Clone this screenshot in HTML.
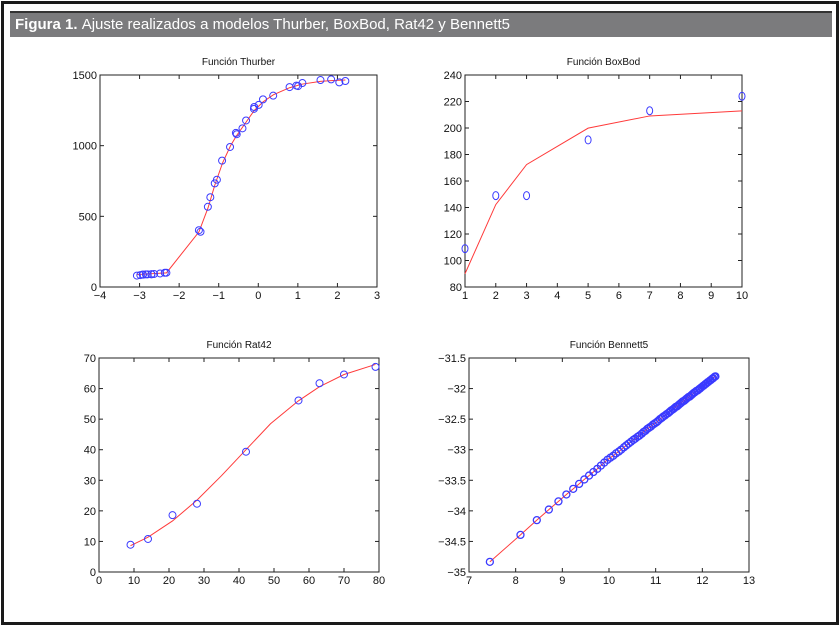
<!DOCTYPE html>
<html><head><meta charset="utf-8"><style>
html,body{margin:0;padding:0;background:#fff;}
body{width:840px;height:627px;overflow:hidden;position:relative;font-family:"Liberation Sans",sans-serif;}
#frame{position:absolute;left:1px;top:1px;width:832px;height:618px;border:3px solid #1a1a1a;}
#hdr{position:absolute;left:10px;top:11px;width:822px;height:26px;background:#7b7b7d;border-top:2px solid #333;color:#fff;font-weight:bold;font-size:15px;line-height:24px;padding-left:5px;box-sizing:border-box;}
#hdr span{font-weight:normal;}
svg{position:absolute;left:0;top:0;}
</style></head><body>
<div id="frame"></div>
<div id="hdr"><b>Figura 1.</b> <span>Ajuste realizados a modelos Thurber, BoxBod, Rat42 y Bennett5</span></div>
<svg id="svg" width="840" height="627"></svg>
<script>
// Thurber
const thX=[-3.067,-2.981,-2.921,-2.912,-2.840,-2.797,-2.702,-2.699,-2.633,-2.481,-2.363,-2.322,-1.501,-1.460,-1.274,-1.212,-1.100,-1.046,-0.915,-0.714,-0.566,-0.545,-0.400,-0.309,-0.109,-0.103,0.010,0.119,0.377,0.790,0.963,1.006,1.115,1.572,1.841,2.047,2.200];
const thY=[80.6,84.2,87.3,87.2,89.1,89.6,89.9,90.1,92.4,95.9,100.7,101.1,401.7,390.7,567.5,635.3,733.1,759.1,894.2,990.8,1090.1,1080.9,1122.6,1178.4,1260.5,1273.5,1288.3,1327.5,1353.9,1414.5,1425.2,1421.4,1443.0,1464.4,1468.7,1447.9,1457.6];
const thFitX=[-3.07,-2.32,-1.5,-1.27,-1.1,-0.9,-0.7,-0.55,-0.3,-0.1,0.12,0.38,0.79,1.1,1.57,1.84,2.2];
const thFitY=[88,100,390,560,720,880,1000,1070,1170,1250,1310,1360,1410,1435,1455,1460,1465];
const thXTicks=[-4,-3,-2,-1,0,1,2,3];
const thYTicks=[0,500,1000,1500];
// BoxBod
const bbX=[1,2,3,5,7,10];
const bbY=[109,149,149,191,213,224];
const bbFitY=[90.0,142.2,172.4,199.9,209.1,212.9];
const bbXTicks=[1,2,3,4,5,6,7,8,9,10];
const bbYTicks=[80,100,120,140,160,180,200,220,240];
// Rat42
const rtX=[9,14,21,28,42,57,63,70,79];
const rtY=[8.93,10.8,18.59,22.33,39.35,56.11,61.73,64.62,67.08];
const rtFitX=[9,14,21,28,35,42,49,57,63,70,79];
const rtFitY=[8.6,11.4,16.7,23.5,31.5,40,48.5,56,60.6,64.6,67.9];
const rtXTicks=[0,10,20,30,40,50,60,70,80];
const rtYTicks=[0,10,20,30,40,50,60,70];
// Bennett5
const bnX=[7.447,8.103,8.453,8.711,8.917,9.087,9.233,9.360,9.472,9.573,9.665,9.749,9.827,9.899,9.966,10.03,10.09,10.15,10.21,10.26,10.32,10.37,10.42,10.47,10.52,10.56,10.61,10.65,10.70,10.74,10.78,10.82,10.86,10.90,10.94,10.98,11.02,11.05,11.09,11.13,11.16,11.20,11.23,11.27,11.30,11.33,11.37,11.40,11.43,11.46,11.49,11.52,11.55,11.58,11.61,11.64,11.67,11.70,11.73,11.76,11.79,11.82,11.84,11.87,11.90,11.93,11.95,11.98,12.01,12.03,12.06,12.08,12.11,12.13,12.16,12.18,12.21,12.23,12.26,12.28];
const bnY=[-34.834,-34.393,-34.152,-33.979,-33.845,-33.732,-33.640,-33.559,-33.486,-33.423,-33.365,-33.313,-33.260,-33.210,-33.165,-33.13,-33.10,-33.06,-33.03,-33.00,-32.96,-32.93,-32.90,-32.87,-32.84,-32.82,-32.79,-32.77,-32.74,-32.71,-32.69,-32.66,-32.64,-32.62,-32.59,-32.57,-32.55,-32.53,-32.50,-32.48,-32.46,-32.44,-32.42,-32.40,-32.38,-32.36,-32.34,-32.32,-32.30,-32.29,-32.27,-32.25,-32.23,-32.21,-32.20,-32.18,-32.16,-32.14,-32.13,-32.11,-32.09,-32.07,-32.06,-32.04,-32.03,-32.01,-32.00,-31.98,-31.96,-31.95,-31.93,-31.92,-31.90,-31.89,-31.87,-31.86,-31.84,-31.83,-31.81,-31.80];
const bnXTicks=[7,8,9,10,11,12,13];
const bnYTicks=[-35,-34.5,-34,-33.5,-33,-32.5,-32,-31.5];

const NS='http://www.w3.org/2000/svg';
const svg=document.getElementById('svg');
function mk(tag,attrs,parent){const e=document.createElementNS(NS,tag);for(const k in attrs)e.setAttribute(k,attrs[k]);(parent||svg).appendChild(e);return e;}

function chart(name,box,xr,yr,xt,yt,title,px,py,fx,fy,rx,ry,sw){
  const g=mk('g',{});
  
  
  const sx=v=>box.l+(v-xr[0])/(xr[1]-xr[0])*(box.r-box.l);
  const sy=v=>box.b-(v-yr[0])/(yr[1]-yr[0])*(box.b-box.t);
  const fr=mk('rect',{x:box.l,y:box.t,width:box.r-box.l,height:box.b-box.t,fill:'#fff',stroke:'#222','stroke-width':1},g);
  
  
  const tt=mk('text',{x:(box.l+box.r)/2,y:box.t-10,'text-anchor':'middle','font-size':'10','font-family':'Liberation Sans, sans-serif',fill:'#111'},g);
  tt.textContent=title;
  
  
  xt.forEach(v=>{
    const x=sx(v);
    mk('line',{x1:x,x2:x,y1:box.b,y2:box.b-4,stroke:'#222'},g);
    mk('line',{x1:x,x2:x,y1:box.t,y2:box.t+4,stroke:'#222'},g);
    const t=mk('text',{x:x,y:box.b+12,'text-anchor':'middle','font-size':'11',fill:'#111'},g);
    t.textContent=String(v).replace('-','\u2212');
    
    
  });
  yt.forEach(v=>{
    const y=sy(v);
    mk('line',{x1:box.l,x2:box.l+4,y1:y,y2:y,stroke:'#222'},g);
    mk('line',{x1:box.r,x2:box.r-4,y1:y,y2:y,stroke:'#222'},g);
    const t=mk('text',{x:box.l-3,y:y+4,'text-anchor':'end','font-size':'11',fill:'#111'},g);
    t.textContent=String(v).replace('-','\u2212');
    
    
  });
  const ln=mk('polyline',{points:fx.map((v,i)=>sx(v)+','+sy(fy[i])).join(' '),fill:'none',stroke:'#ff3a3a','stroke-width':1},g);
  
  
  px.forEach((v,i)=>{
    const c=mk('ellipse',{cx:sx(v),cy:sy(py[i]),rx:rx,ry:ry,fill:'none',stroke:'#3a3aff','stroke-width':sw},g);
    
    
  });
}
chart('thurber-chart',{l:100,r:377,t:75,b:287},[-4,3],[0,1500],thXTicks,thYTicks,'Función Thurber',thX,thY,thFitX,thFitY,3.5,3.5,1);
chart('boxbod-chart',{l:465,r:742,t:75,b:287},[1,10],[80,240],bbXTicks,bbYTicks,'Función BoxBod',bbX,bbY,bbX,bbFitY,3,4,1);
chart('rat42-chart',{l:99,r:379,t:358,b:572},[0,80],[0,70],rtXTicks,rtYTicks,'Función Rat42',rtX,rtY,rtFitX,rtFitY,3.5,3.5,1);
chart('bennett5-chart',{l:469,r:749,t:358,b:572},[7,13],[-35,-31.5],bnXTicks,bnYTicks,'Función Bennett5',bnX,bnY,bnX,bnY,3.5,3.5,1.3);
</script>
</body></html>
